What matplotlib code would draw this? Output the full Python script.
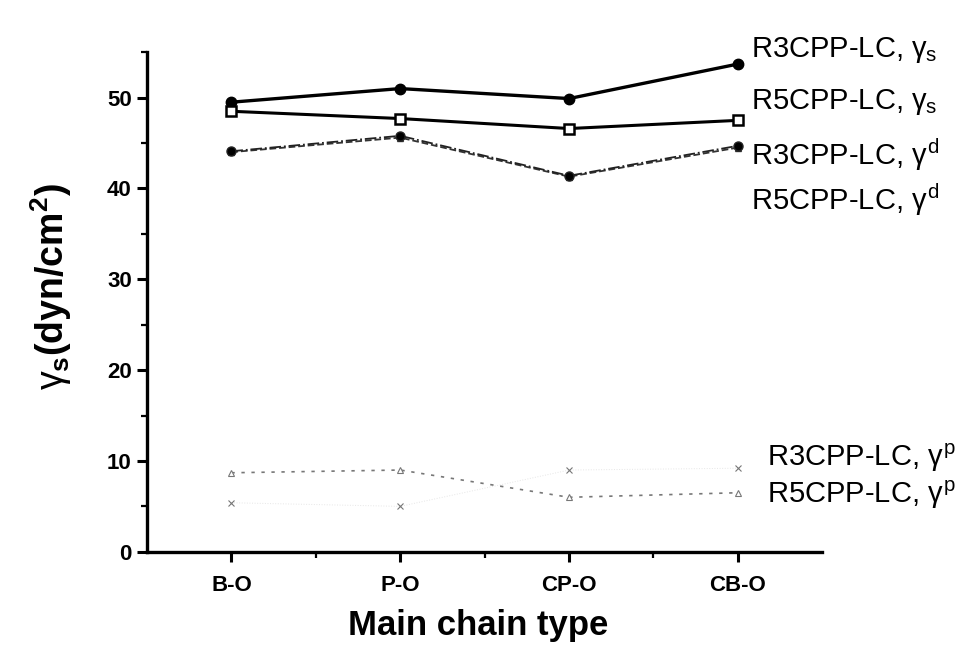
import numpy as np
import matplotlib.pyplot as plt
from matplotlib.ticker import MultipleLocator, FixedLocator

plt.rcParams['font.family'] = ['Liberation Sans', 'DejaVu Sans']
plt.rcParams['mathtext.fontset'] = 'custom'
plt.rcParams['mathtext.rm'] = 'Liberation Sans'
plt.rcParams['mathtext.it'] = 'Liberation Sans'
plt.rcParams['mathtext.bf'] = 'Liberation Sans:bold'

chains = ['B-O', 'P-O', 'CP-O', 'CB-O']
r3_gs = [49.5, 51.0, 49.9, 53.7]
r5_gs = [48.5, 47.7, 46.6, 47.5]
r3_gd = [44.1, 45.8, 41.4, 44.7]
r5_gd = [44.0, 45.6, 41.3, 44.5]
r3_gp = [5.4, 5.0, 9.0, 9.2]
r5_gp = [8.7, 9.0, 6.0, 6.5]

x = np.arange(1, len(chains) + 1)

fig = plt.figure(figsize=(9.64, 6.53), dpi=100)
ax = fig.add_axes([0.1525, 0.155, 0.7005, 0.765])

ax.plot(x, r3_gs, '-', color='black', lw=2.4, marker='o', ms=7.5, mfc='black')
ax.plot(x, r5_gs, '-', color='black', lw=2.2, marker='s', ms=6.5, mfc='white', mew=1.8)
ax.plot(x, r5_gd, '--', color='#333333', lw=1.3, marker='^', ms=4, mfc='white')
ax.plot(x, r3_gd, '-.', color='#222222', lw=1.3, marker='o', ms=6.5, mfc='black')
ax.plot(x, r3_gp, ':', color='#e6e6e6', lw=0.7, marker='x', ms=4, mec='#777777', mew=0.8)
ax.plot(x, r5_gp, color='#777777', ls=(0, (2, 4)), lw=1.2, marker='^', ms=5, mfc='white', mec='#777777', mew=0.8)

ax.set_xlim(0.5, 4.5)
ax.set_ylim(0, 55)
ax.set_xticks(x)
ax.set_xticklabels(chains)
ax.xaxis.set_minor_locator(FixedLocator([1.5, 2.5, 3.5]))
ax.yaxis.set_major_locator(MultipleLocator(10))
ax.yaxis.set_minor_locator(MultipleLocator(5))
ax.spines['top'].set_visible(False)
ax.spines['right'].set_visible(False)
ax.spines['left'].set_linewidth(2.4)
ax.spines['bottom'].set_linewidth(2.4)
ax.tick_params(which='major', direction='out', length=7, width=2.2)
ax.tick_params(which='minor', direction='out', length=4, width=1.6)
ax.tick_params(axis='x', which='major', labelsize=16, pad=10)
ax.tick_params(axis='y', which='major', labelsize=16, pad=4)
for lab in ax.get_xticklabels() + ax.get_yticklabels():
    lab.set_fontweight('bold')

ax.set_ylabel(r'$\gamma_\mathbf{s}$(dyn/cm$^\mathbf{2}$)', fontsize=27, fontweight='bold')
ax.yaxis.set_label_coords(-0.108, 0.53)
ax.set_xlabel('Main chain type', fontsize=25, fontweight='bold')
ax.xaxis.set_label_coords(0.49, -0.115)

labels = [
    (751, 50, r'R3CPP-LC, $\gamma_\mathrm{s}$'),
    (751, 102, r'R5CPP-LC, $\gamma_\mathrm{s}$'),
    (751, 155, r'R3CPP-LC, $\gamma^\mathrm{d}$'),
    (751, 200, r'R5CPP-LC, $\gamma^\mathrm{d}$'),
    (767, 458, r'R3CPP-LC, $\gamma^\mathrm{p}$'),
    (767, 495, r'R5CPP-LC, $\gamma^\mathrm{p}$'),
]
for px, py, s in labels:
    fig.text(px / 964, 1 - py / 653, s, fontsize=21, va='center', ha='left')

fig.savefig('out.png', dpi=100)
